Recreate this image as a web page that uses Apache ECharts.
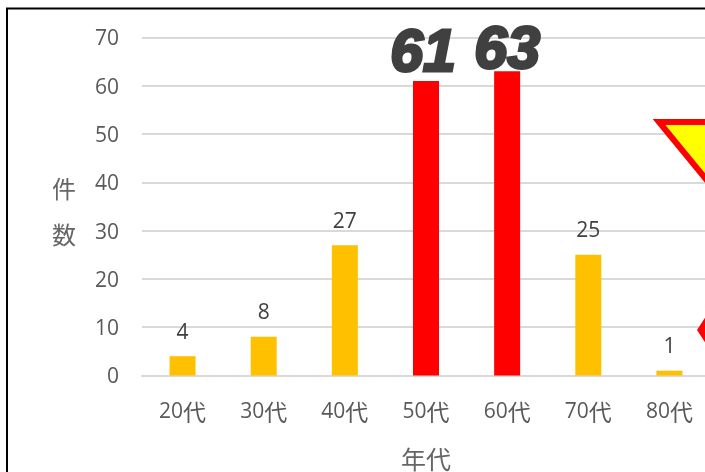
<!DOCTYPE html>
<html><head><meta charset="utf-8">
<style>html,body{margin:0;padding:0;background:#fff;overflow:hidden}#c{width:705px;height:472px}</style>
<script src="https://cdn.jsdelivr.net/npm/echarts@6/dist/echarts.min.js"></script>
</head><body><div id="c"></div>
<script>
const categories = ['20代','30代','40代','50代','60代','70代','80代'];
const counts = [4,8,27,61,63,25,1];
const highlighted = ['50代','60代'];
const yTicks = {min:0,max:70,interval:10};
const xTitle = '年代';
const yTitle = '件\n\n数';
const FONT = '"Open Sans","Noto Sans CJK JP",sans-serif';
const chart = echarts.init(document.getElementById('c'),null,{renderer:'canvas'});
chart.setOption({
  animation:false,
  backgroundColor:'#fff',
  grid:{left:142,width:568,top:37.5,bottom:96.5,containLabel:false,outerBoundsMode:'none'},
  xAxis:{type:'category',data:categories,
    axisLine:{show:true,lineStyle:{color:'#d9d9d9',width:2}},axisTick:{show:false},
    axisLabel:{margin:25,
      formatter:v=>'{d|'+v.slice(0,-1)+'}{k|'+v.slice(-1)+'}',
      rich:{d:{color:'#595959',fontSize:21,fontFamily:FONT},
            k:{color:'#595959',fontSize:23,fontFamily:'"Noto Sans CJK JP"'}}},
    splitLine:{show:false}},
  yAxis:{type:'value',min:yTicks.min,max:yTicks.max,interval:yTicks.interval,
    axisLine:{show:false},axisTick:{show:false},
    axisLabel:{margin:23,formatter:'{v|{value}}',
      rich:{v:{color:'#595959',fontSize:21,fontFamily:FONT,padding:[4,0,0,0]}}},
    splitLine:{show:true,lineStyle:{color:'#d9d9d9',width:2}}},
  series:[{type:'bar',barWidth:26,
    data:counts.map((v,i)=>{
      const hi = highlighted.includes(categories[i]);
      return {value:v,
        itemStyle:{color:hi?'#ff0000':'#ffc000'},
        label: hi ? {fontSize:59,fontWeight:'bold',fontStyle:'italic',color:'#404040',
                     textBorderColor:'#404040',textBorderWidth:3,
                     fontFamily:'"Liberation Sans Narrow","Liberation Sans",sans-serif',
                     distance:v===61?-3:-10,offset:[v===61?-3:0,0]}
                  : {}};
    }),
    label:{show:true,position:'top',color:'#404040',fontSize:21,fontFamily:FONT,distance:13}
  }],
  graphic:[
    {type:'text',left:401,top:447,style:{text:xTitle,fill:'#666',font:'25px "Noto Sans CJK JP"'}},
    {type:'text',left:52,top:177,style:{text:yTitle,fill:'#666',font:'24px "Noto Sans CJK JP"',lineHeight:23}},
    {type:'polygon',z:10,shape:{points:[[659,122],[760,122],[760,245]]},style:{fill:'#ffff00',stroke:'#ff0000',lineWidth:6}},
    {type:'polygon',z:10,shape:{points:[[697,330],[720,295],[743,330],[720,365]]},style:{fill:'#ff0000'}},
    {type:'line',shape:{x1:6,y1:8.5,x2:705,y2:8.5},style:{stroke:'#000',lineWidth:2}},
    {type:'line',shape:{x1:7,y1:8,x2:7,y2:472},style:{stroke:'#000',lineWidth:2}}
  ]
});
</script></body></html>
